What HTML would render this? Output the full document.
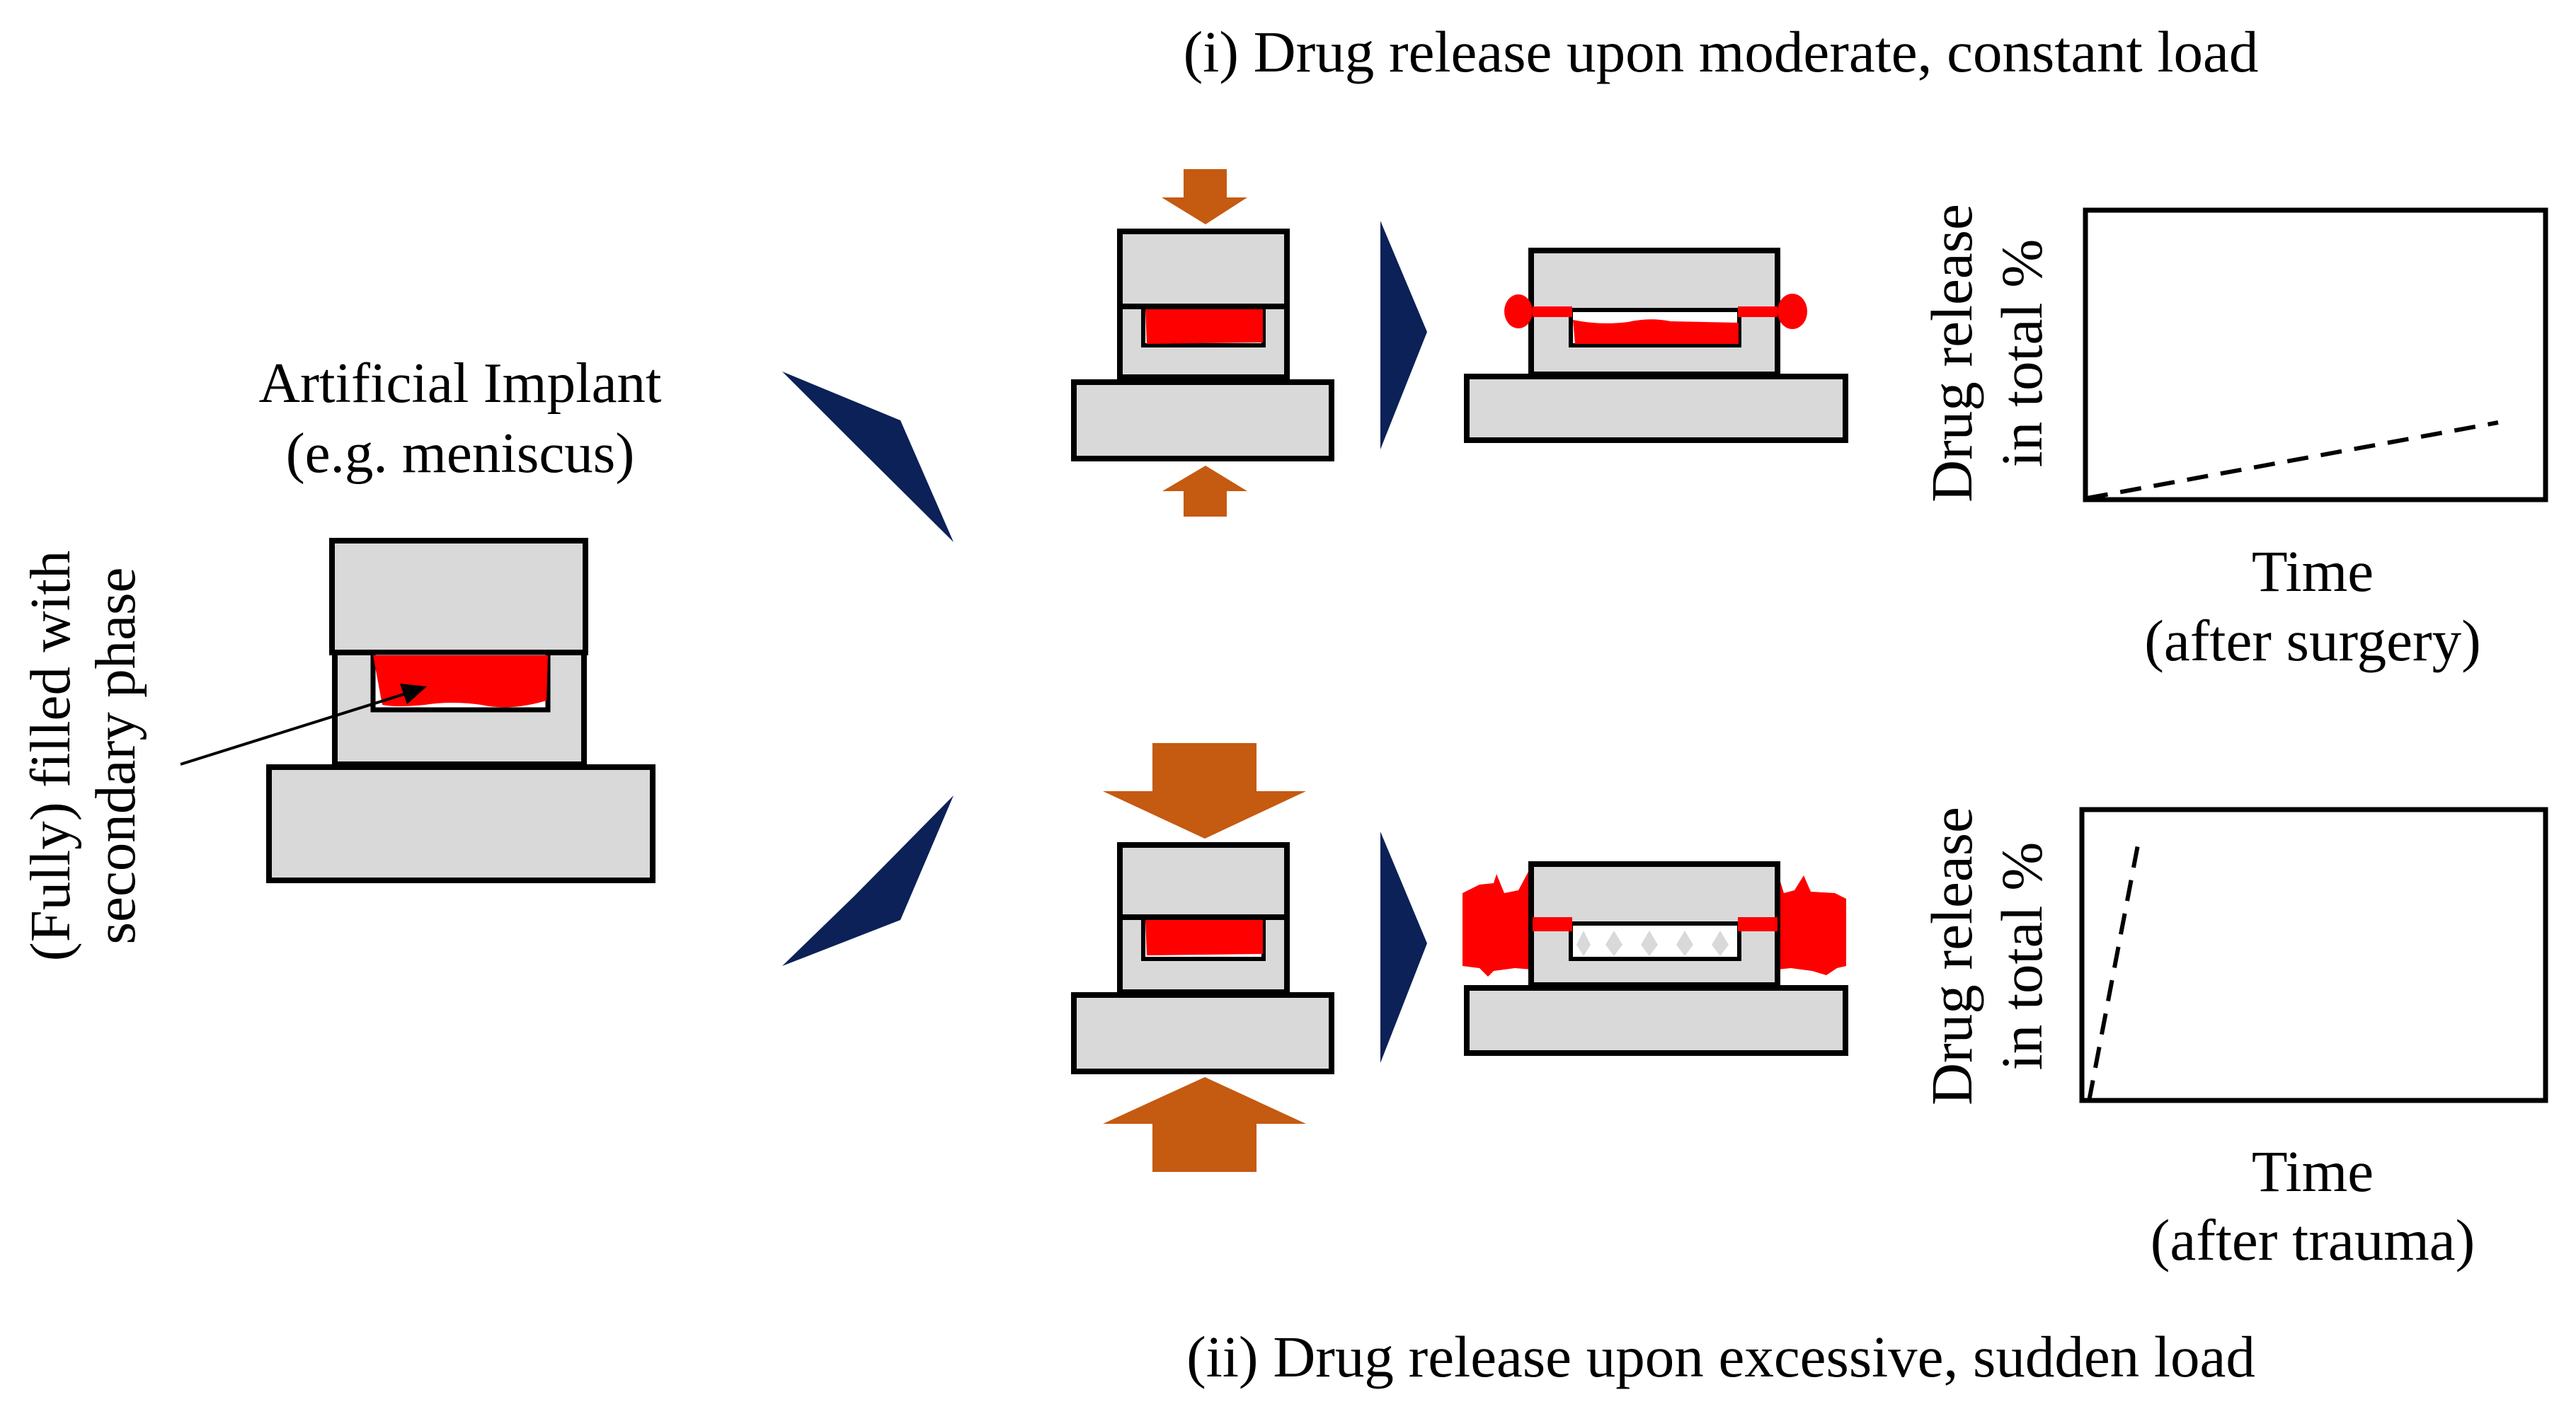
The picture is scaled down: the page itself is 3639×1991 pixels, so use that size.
<!DOCTYPE html>
<html><head><meta charset="utf-8"><style>
html,body{margin:0;padding:0;background:#fff}
svg{display:block}
text{font-family:"Liberation Serif",serif;fill:#000}
</style></head><body>
<svg width="3639" height="1991" viewBox="0 0 3639 1991" xmlns="http://www.w3.org/2000/svg">
<!-- Titles -->
<text x="2431" y="101" font-size="83" text-anchor="middle">(i) Drug release upon moderate, constant load</text>
<text x="2431" y="1945" font-size="83" text-anchor="middle">(ii) Drug release upon excessive, sudden load</text>

<!-- Left implant -->
<text x="650" y="568" font-size="81" text-anchor="middle">Artificial Implant</text>
<text x="650" y="667" font-size="81" text-anchor="middle">(e.g. meniscus)</text>
<rect x="469" y="764" width="358" height="158" fill="#d9d9d9" stroke="#000" stroke-width="8"/>
<rect x="473" y="922" width="352" height="158" fill="#d9d9d9" stroke="#000" stroke-width="8"/>
<rect x="527" y="922" width="247" height="81" fill="#fff" stroke="#000" stroke-width="7"/>
<path d="M527 926 L774 926 L772 990 Q720 1005 680 996 Q640 990 600 996 Q560 1000 540 996 Z" fill="#ff0000"/>
<rect x="380" y="1084" width="542" height="160" fill="#d9d9d9" stroke="#000" stroke-width="8"/>
<line x1="255" y1="1080" x2="580" y2="978" stroke="#000" stroke-width="4"/>
<polygon points="603,970 565,966 575,995" fill="#000"/>
<text transform="translate(98,1068) rotate(-90)" font-size="81" text-anchor="middle">(Fully) filled with</text>
<text transform="translate(190,1068) rotate(-90)" font-size="81" text-anchor="middle">secondary phase</text>

<!-- Big chevrons -->
<polygon points="1105,525 1272,594 1347,766 1207,627" fill="#0b2157"/>
<polygon points="1105,1365 1272,1300 1347,1124 1207,1266" fill="#0b2157"/>

<!-- TOP: compressed piece -->
<polygon points="1672,239 1733,239 1733,279 1762,279 1703,317 1641,279 1672,279" fill="#c55a11"/>
<rect x="1582" y="327" width="236" height="206" fill="#d9d9d9" stroke="#000" stroke-width="8"/>
<line x1="1582" y1="433" x2="1818" y2="433" stroke="#000" stroke-width="8"/>
<rect x="1615" y="437" width="170" height="51" fill="#fff" stroke="#000" stroke-width="6"/>
<path d="M1618 437 L1784 437 L1784 484 L1620 486 Z" fill="#ff0000"/>
<rect x="1517" y="540" width="364" height="108" fill="#d9d9d9" stroke="#000" stroke-width="8"/>
<polygon points="1703,658 1762,694 1733,694 1733,730 1672,730 1672,694 1642,694" fill="#c55a11"/>
<polygon points="1950,312 2016,469 1950,635" fill="#0b2157"/>
<!-- right -->
<rect x="2163" y="354" width="348" height="175" fill="#d9d9d9" stroke="#000" stroke-width="8"/>
<rect x="2219" y="438" width="238" height="50" fill="#fff" stroke="#000" stroke-width="6"/>
<path d="M2222 452 Q2260 460 2300 455 Q2330 448 2360 454 L2456 456 L2456 486 L2225 486 Z" fill="#ff0000"/>
<rect x="2165" y="433" width="56" height="15" fill="#ff0000"/>
<rect x="2455" y="433" width="56" height="15" fill="#ff0000"/>
<ellipse cx="2145" cy="440" rx="20" ry="24" fill="#ff0000"/>
<ellipse cx="2532" cy="440" rx="21" ry="25" fill="#ff0000"/>
<rect x="2072" y="532" width="535" height="90" fill="#d9d9d9" stroke="#000" stroke-width="8"/>

<!-- BOTTOM: compressed piece -->
<polygon points="1628,1050 1775,1050 1775,1118 1845,1118 1702,1185 1558,1118 1628,1118" fill="#c55a11"/>
<rect x="1582" y="1194" width="236" height="208" fill="#d9d9d9" stroke="#000" stroke-width="8"/>
<line x1="1582" y1="1296" x2="1818" y2="1296" stroke="#000" stroke-width="8"/>
<rect x="1615" y="1300" width="170" height="55" fill="#fff" stroke="#000" stroke-width="6"/>
<path d="M1618 1300 L1784 1300 L1784 1348 L1620 1350 Z" fill="#ff0000"/>
<rect x="1517" y="1406" width="364" height="108" fill="#d9d9d9" stroke="#000" stroke-width="8"/>
<polygon points="1702,1522 1845,1588 1775,1588 1775,1656 1628,1656 1628,1588 1558,1588" fill="#c55a11"/>
<polygon points="1950,1175 2016,1333 1950,1502" fill="#0b2157"/>
<!-- right -->
<path d="M2066 1262 L2090 1250 L2110 1248 L2114 1235 L2125 1262 L2145 1258 L2160 1230 L2165 1240 L2165 1370 L2140 1368 L2110 1372 L2102 1380 L2090 1368 L2066 1365 Z" fill="#ff0000"/>
<path d="M2510 1230 L2520 1262 L2535 1258 L2548 1237 L2558 1260 L2592 1262 L2608 1270 L2608 1365 L2595 1368 L2580 1378 L2560 1372 L2530 1368 L2510 1370 Z" fill="#ff0000"/>
<rect x="2163" y="1221" width="348" height="171" fill="#d9d9d9" stroke="#000" stroke-width="8"/>
<rect x="2219" y="1305" width="238" height="50" fill="#fff" stroke="#000" stroke-width="6"/>
<g fill="#d9d9d9">
<path d="M2237 1315 L2247 1335 L2237 1351 L2227 1335 Z"/>
<path d="M2280 1315 L2292 1335 L2280 1351 L2268 1335 Z"/>
<path d="M2330 1315 L2342 1335 L2330 1351 L2318 1335 Z"/>
<path d="M2380 1315 L2392 1335 L2380 1351 L2368 1335 Z"/>
<path d="M2430 1315 L2442 1335 L2430 1351 L2418 1335 Z"/>
</g>
<rect x="2165" y="1296" width="56" height="20" fill="#ff0000"/>
<rect x="2455" y="1296" width="56" height="20" fill="#ff0000"/>
<rect x="2072" y="1396" width="535" height="92" fill="#d9d9d9" stroke="#000" stroke-width="8"/>

<!-- Graph top -->
<rect x="2946" y="297" width="650" height="409" fill="#fff" stroke="#000" stroke-width="7"/>
<line x1="2948" y1="704" x2="3529" y2="597" stroke="#000" stroke-width="6" stroke-dasharray="30,18"/>
<text transform="translate(2785,499) rotate(-90)" font-size="83" text-anchor="middle">Drug release</text>
<text transform="translate(2884,499) rotate(-90)" font-size="83" text-anchor="middle">in total %</text>
<text x="3267" y="835" font-size="83" text-anchor="middle">Time</text>
<text x="3267" y="933" font-size="83" text-anchor="middle">(after surgery)</text>

<!-- Graph bottom -->
<rect x="2941" y="1144" width="655" height="411" fill="#fff" stroke="#000" stroke-width="7"/>
<line x1="2951" y1="1556" x2="3021" y2="1189" stroke="#000" stroke-width="6" stroke-dasharray="30,18"/>
<text transform="translate(2785,1351) rotate(-90)" font-size="83" text-anchor="middle">Drug release</text>
<text transform="translate(2884,1351) rotate(-90)" font-size="83" text-anchor="middle">in total %</text>
<text x="3267" y="1683" font-size="83" text-anchor="middle">Time</text>
<text x="3267" y="1780" font-size="83" text-anchor="middle">(after trauma)</text>
</svg>
</body></html>
